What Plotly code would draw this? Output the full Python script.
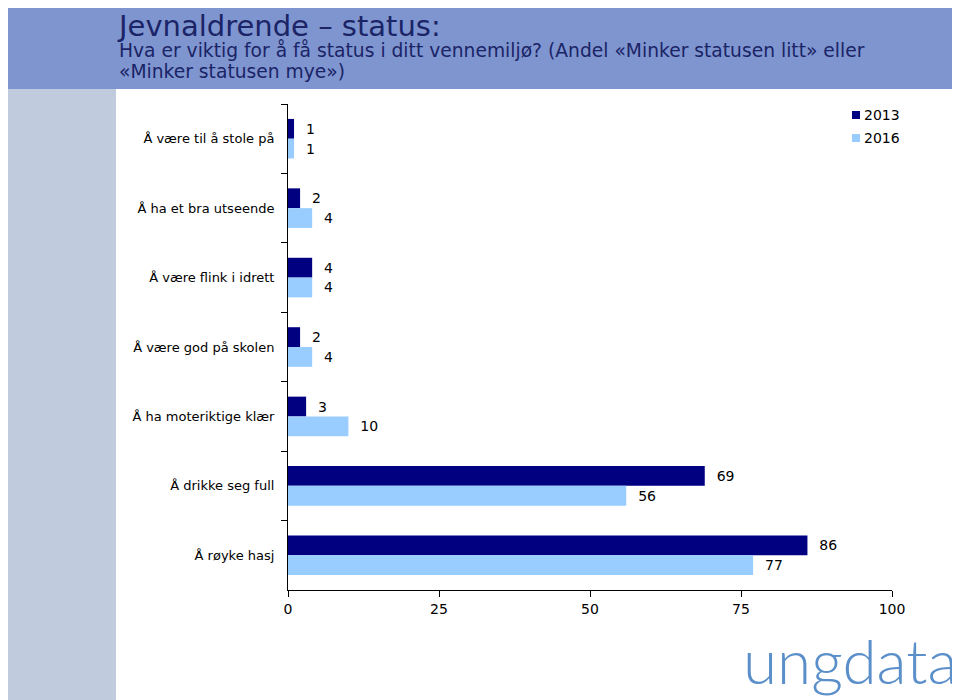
import plotly.graph_objects as go

categories = ["Å være til å stole på", "Å ha et bra utseende", "Å være flink i idrett",
              "Å være god på skolen", "Å ha moteriktige klær", "Å drikke seg full", "Å røyke hasj"]
values_2013 = [1, 2, 4, 2, 3, 69, 86]
values_2016 = [1, 4, 4, 4, 10, 56, 77]
series_names = ["2013", "2016"]
series_colors = ["#000080", "#99ccff"]
x_ticks = [0, 25, 50, 75, 100]

title_text = "Jevnaldrende – status:"
subtitle_lines = ["Hva er viktig for å få status i ditt vennemiljø? (Andel «Minker statusen litt» eller",
                  "«Minker statusen mye»)"]

FONT = "DejaVu Sans"
OFF = 8  # browser body margin
W, H = 960 - OFF, 700 - OFF
# plot area in page pixels
L, R, T, B = 288, 892, 104, 590
PW, PH = R - L, B - T

def px(x):
    return (x - L) / PW

def py(y):
    return (B - y) / PH

fig = go.Figure()
for name, vals, col in zip(series_names, [values_2013, values_2016], series_colors):
    fig.add_trace(go.Bar(y=categories, x=vals, orientation="h", name=name,
                         marker=dict(color=col, line=dict(width=0)),
                         text=vals, texttemplate="  %{x}", textposition="outside",
                         textfont=dict(family=FONT, size=14, color="black"), cliponaxis=False))

shapes = [
    dict(type="rect", xref="paper", yref="paper", x0=px(-10), x1=px(980), y0=py(89), y1=py(-10),
         fillcolor="#7f95d0", line=dict(width=0), layer="below"),
    dict(type="rect", xref="paper", yref="paper", x0=px(-10), x1=px(116), y0=py(720), y1=py(89),
         fillcolor="#c0cbdd", line=dict(width=0), layer="below"),
]
header = ("<span style='font-size:29px'>" + title_text + "</span>"
          + "".join("<br><span style='font-size:18.7px'>" + s + "</span>" for s in subtitle_lines))
annotations = [
    dict(text=header, xref="paper", yref="paper", x=px(116), y=py(8),
         xanchor="left", yanchor="top", align="left", showarrow=False, borderpad=0,
         font=dict(family=FONT, size=16.15, color="#1a2466")),
    dict(text="ungdata", xref="paper", yref="paper", x=px(850), y=py(660),
         xanchor="center", yanchor="middle", showarrow=False,
         font=dict(family="Lato", size=62, color="#5b8fc9", weight=300)),
]
# legend (custom, small squares as in the reference)
for i, (name, col) in enumerate(zip(series_names, series_colors)):
    yc = 115 + 23 * i
    shapes.append(dict(type="rect", xref="paper", yref="paper", x0=px(852), x1=px(860),
                       y0=py(yc + 4), y1=py(yc - 4), fillcolor=col, line=dict(width=0)))
    annotations.append(dict(text=name, xref="paper", yref="paper", x=px(862), y=py(yc),
                            xanchor="left", yanchor="middle", showarrow=False,
                            font=dict(family=FONT, size=14, color="black")))

fig.update_layout(
    width=W, height=H,
    margin=dict(l=L - OFF, r=W - (R - OFF), t=T - OFF, b=H - (B - OFF), pad=0),
    paper_bgcolor="white", plot_bgcolor="white",
    barmode="group", bargap=0.43, bargroupgap=0,
    font=dict(family=FONT, size=14, color="black"),
    shapes=shapes, annotations=annotations,
    showlegend=False,
)
fig.update_xaxes(range=[0, 100], tickvals=x_ticks, ticks="outside", ticklen=6,
                 tickcolor="black", showline=True, linecolor="black", linewidth=1,
                 showgrid=False, zeroline=False,
                 tickfont=dict(family=FONT, size=14, color="black"))
fig.update_yaxes(autorange="reversed", ticks="outside", tickson="boundaries", ticklen=6,
                 tickcolor="black", showline=True, linecolor="black", linewidth=1,
                 showgrid=False, ticklabelstandoff=10,
                 tickfont=dict(family=FONT, size=13, color="black"))

fig.write_html("out.html")
